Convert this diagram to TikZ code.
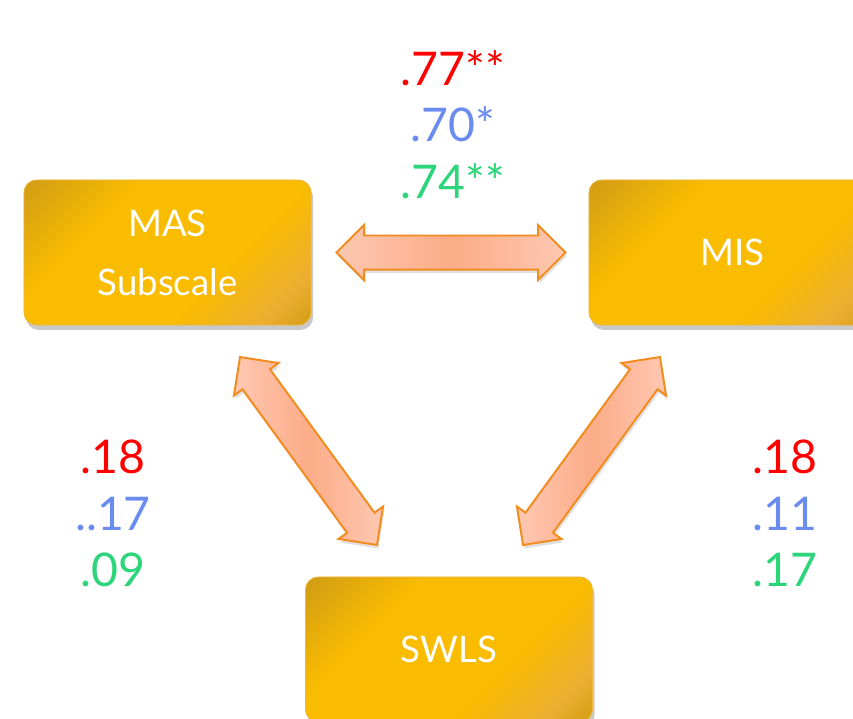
\documentclass[tikz,border=0pt]{standalone}
\usepackage{fontspec}
\setmainfont{Lato}
\usetikzlibrary{calc,shapes.arrows,shadows}

\definecolor{boxgold}{RGB}{249,188,0}
\definecolor{boxdark}{RGB}{212,158,20}
\definecolor{boxorange}{RGB}{237,174,50}
\definecolor{boxedge}{RGB}{236,182,60}
\definecolor{arrowfill}{RGB}{252,172,136}
\definecolor{arrowlight}{RGB}{254,200,178}
\definecolor{arrowedge}{RGB}{242,140,30}
\definecolor{numred}{RGB}{255,0,0}
\definecolor{numblue}{RGB}{106,140,238}
\definecolor{numgreen}{RGB}{44,212,122}

\pgfdeclarehorizontalshading{goldbox}{100bp}{color(0bp)=(boxdark); color(16bp)=(boxdark);
	color(34bp)=(boxgold); color(62bp)=(boxgold); color(77bp)=(boxorange);
	color(85bp)=(boxdark); color(100bp)=(boxdark)}

\tikzset{
	scalebox/.style={rectangle, rounded corners=9pt, minimum width=7.175cm, minimum height=3.625cm,
		align=center, text=white, font=\fontsize{26}{42}\selectfont,
		shading=goldbox, shading angle=-45,
		draw=boxedge, line width=0.6pt,
		drop shadow={shadow xshift=1.5pt, shadow yshift=-3.5pt, opacity=0.3, fill=black!70}},
	fatarrow/.style={double arrow, double arrow tip angle=90, double arrow head extend=7.5pt,
		inner xsep=0pt, inner ysep=11.4pt,
		left color=arrowlight, right color=arrowlight, middle color=arrowfill,
		draw=arrowedge, line width=1.4pt,
		drop shadow={shadow xshift=1pt, shadow yshift=-2.5pt, opacity=0.2, fill=black!60}},
	numlabel/.style={font=\fontsize{33}{40}\selectfont, inner sep=0pt}
}

% fat double arrow between two named points
\newcommand\linkarrow[2]{%
	\path let \p1=($(#2)-(#1)$), \n1={atan2(\y1,\x1)}, \n2={veclen(\x1,\y1)} in
		node[fatarrow, minimum height=\n2, rotate=\n1] at ($(#1)!0.5!(#2)$) {};}

\begin{document}
\begin{tikzpicture}[x=0.025cm, y=-0.025cm]

	\useasboundingbox (0,0) rectangle (853,718);
	\clip (0,0) rectangle (853,718);

	% the three scales
	\node[scalebox] (mas) at (167.5,252.5) {MAS\\Subscale};
	\node[scalebox] (mis) at (732.5,252.5) {MIS};
	\node[scalebox] (swls) at (449,649.5) {SWLS};

	% arrow ends
	\coordinate (masR) at ($(mas.east)+(25,0)$);
	\coordinate (misL) at ($(mis.west)+(-23,0)$);
	\coordinate (masB) at (240,357);
	\coordinate (swlsL) at (377,545);
	\coordinate (misB) at (660,357);
	\coordinate (swlsR) at (523,545);

	\linkarrow{masR}{misL}
	\linkarrow{masB}{swlsL}
	\linkarrow{misB}{swlsR}

	% correlations
	\node[numlabel, text=numred] (topA) at (453,68) {.77**};
	\node[numlabel, text=numblue] (topB) at (453,124) {.70*};
	\node[numlabel, text=numgreen] (topC) at (453,181) {.74**};

	\node[numlabel, text=numred] (leftA) at (113,457) {.18};
	\node[numlabel, text=numblue] (leftB) at (113,514) {..17};
	\node[numlabel, text=numgreen] (leftC) at (113,570) {.09};

	\node[numlabel, text=numred] (rightA) at (785,457) {.18};
	\node[numlabel, text=numblue] (rightB) at (785,514) {.11};
	\node[numlabel, text=numgreen] (rightC) at (785,570) {.17};

\end{tikzpicture}
\end{document}
